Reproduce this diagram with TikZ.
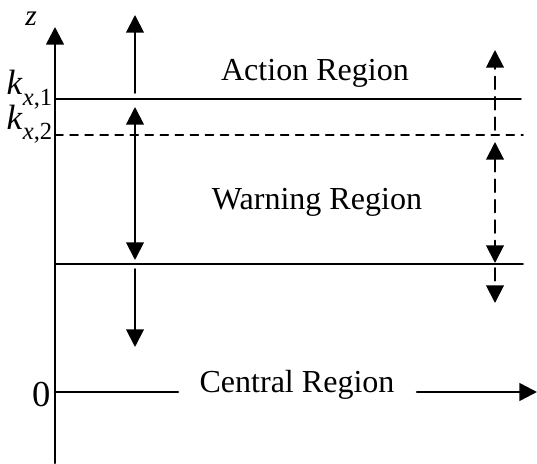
\documentclass[tikz,border=0pt]{standalone}
\usepackage{fontspec}
\setmainfont{Liberation Serif}
\usepackage{tikz}
\usetikzlibrary{arrows.meta}
\usepackage{tkz-euclide}

\begin{document}
\begin{tikzpicture}[scale=1.0,
        >={Triangle[length=12.5pt,width=12.5pt]},
        lbl/.style={font=\fontsize{22.8}{27}\selectfont, inner sep=0pt},
        klbl/.style={font=\fontsize{25}{29}\selectfont, inner sep=0pt, anchor=base east},
        axis/.style={black, line width=1.8pt},
        level/.style={black, line width=1.1pt},
        move/.style={black, line width=1.4pt},
        dmove/.style={black, line width=1.4pt, dash pattern=on 9pt off 5.5pt}]
            \useasboundingbox (0,0) rectangle (13.425,11.575);
            % axes
            \tkzDefPoints{1.375/0/O, 1.375/10.9/Z,
                1.375/1.775/H, 4.45/1.775/Ha, 10.425/1.775/Hb, 13.425/1.775/Hc}
            % limits
            \tkzDefPoints{1.375/9.1/K, 13.025/9.1/Ke, 1.375/8.2/L, 13.075/8.2/Le,
                1.375/4.975/M, 13.075/4.975/Me}
            % arrows on the left
            \tkzDefPoints{3.375/9.25/A, 3.375/11.2/B, 3.375/8.9/C, 3.375/5.075/D,
                3.375/4.85/E, 3.375/2.9/F}
            % dashed arrows on the right
            \tkzDefPoints{12.375/8.325/P, 12.375/10.325/Q, 12.375/8.025/R, 12.375/5.0/S,
                12.375/4.875/T, 12.375/4.0/U}
            \tkzDrawSegment[axis, ->](O,Z)
            \tkzDrawSegments[axis](H,Ha)
            \tkzDrawSegment[axis, ->](Hb,Hc)
            \tkzDrawSegments[level](K,Ke M,Me)
            \tkzDrawSegment[level, dash pattern=on 5.7pt off 5pt](L,Le)
            \tkzDrawSegments[move, ->](A,B E,F)
            \tkzDrawSegment[move, <->](C,D)
            \tkzDrawSegments[dmove, ->](P,Q T,U)
            \tkzDrawSegment[dmove, <->](R,S)
            \node[lbl, font=\fontsize{21}{24}\selectfont\itshape] (zlab) at (0.78,11.1) {z};
            \node[klbl] (k1) at (1.33,9.2) {\textit{k}\raisebox{-0.3ex}{\textsubscript{\textit{x},1}}};
            \node[klbl] (k2) at (1.33,8.33) {\textit{k}\raisebox{-0.3ex}{\textsubscript{\textit{x},2}}};
            \node[lbl, font=\fontsize{26}{30}\selectfont, anchor=east] (zero) at (1.27,1.72) {0};
            \node[lbl] (act) at (7.875,9.75) {Action Region};
            \node[lbl] (warn) at (7.925,6.525) {Warning Region};
            \node[lbl] (cen) at (7.425,1.95) {Central Region};
        \end{tikzpicture}
\end{document}
